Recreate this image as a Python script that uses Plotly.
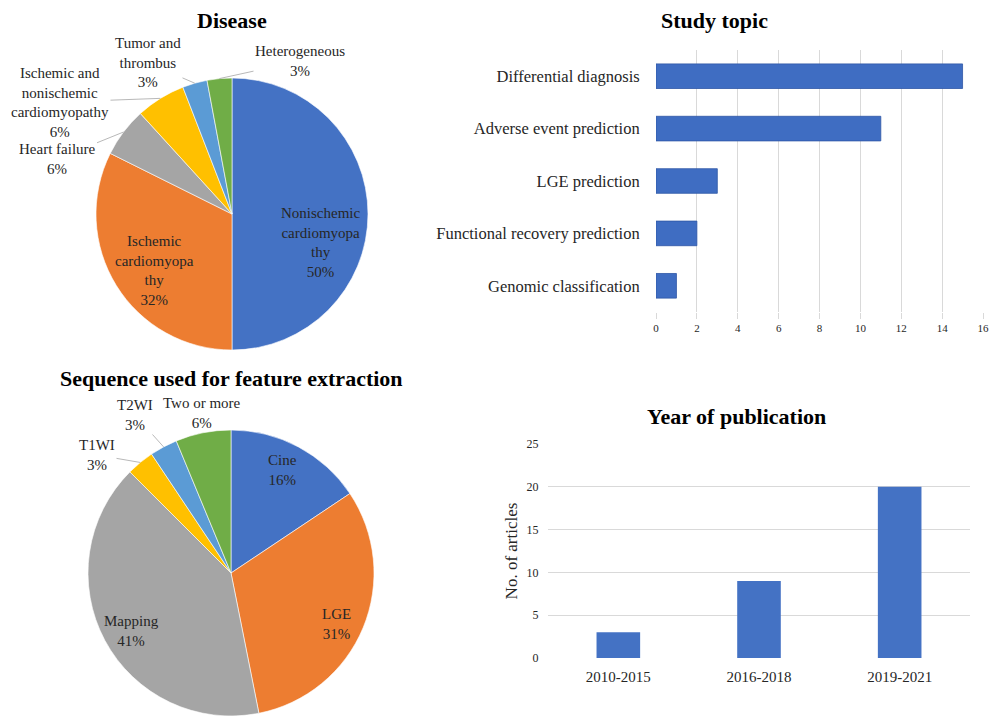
import math
import plotly.graph_objects as go

W, H = 998, 716

# ---- data -----------------------------------------------------------------
disease_labels = ["Nonischemic cardiomyopathy", "Ischemic cardiomyopathy", "Heart failure",
                  "Ischemic and nonischemic cardiomyopathy", "Tumor and thrombus", "Heterogeneous"]
disease_counts = [17, 11, 2, 2, 1, 1]

sequence_labels = ["Cine", "LGE", "Mapping", "T1WI", "T2WI", "Two or more"]
sequence_counts = [5, 10, 13, 1, 1, 2]

topic_labels = ["Differential diagnosis", "Adverse event prediction", "LGE prediction",
                "Functional recovery prediction", "Genomic classification"]
topic_counts = [15, 11, 3, 2, 1]

year_labels = ["2010-2015", "2016-2018", "2019-2021"]
year_counts = [3, 9, 20]


def fx(x):
    return x / W


def fy(y):
    return 1 - y / H


# ---- styling ----------------------------------------------------------------
SLICE_COLORS = ["#4472C4", "#ED7D31", "#A5A5A5", "#FFC000", "#5B9BD5", "#70AD47"]
BAR_COLOR = "#4472C4"
TOPIC_BAR = "#3F6DC2"
GRID = "#D9D9D9"
TEXT = "#262626"
FONT = "'Liberation Serif', 'Times New Roman', serif"

# wrapped label text as it is shown on the pies
disease_wrap = {
    "Nonischemic cardiomyopathy": "Nonischemic<br>cardiomyopa<br>thy",
    "Ischemic cardiomyopathy": "Ischemic<br>cardiomyopa<br>thy",
    "Ischemic and nonischemic cardiomyopathy": "Ischemic and<br>nonischemic<br>cardiomyopathy",
    "Tumor and thrombus": "Tumor and<br>thrombus",
}

# pie geometry in pixels: centre and radius
DIS_PIE = dict(cx=232, cy=214, r=136)
SEQ_PIE = dict(cx=231, cy=573, r=143)

# label placement: (dx, dy) offset of the label centre from the pie centre, leader line or not
disease_place = [(88, 28, False), (-78, 56, False), (-175, -55, True),
                 (-172, -112, True), (-84, -151, True), (68, -153, True)]
sequence_place = [(51, -103, False), (105, 51, False), (-100, 58, False),
                  (-134, -118, True), (-96, -158, True), (-29, -160, False)]


def pie_domain(p):
    return dict(x=[max(0.0, fx(p["cx"] - p["r"])), min(1.0, fx(p["cx"] + p["r"]))],
                y=[max(0.0, fy(p["cy"] + p["r"])), min(1.0, fy(p["cy"] - p["r"]))])


def pie_annotations(labels, counts, geom, place, wrap):
    total = sum(counts)
    anns = []
    cum = 0
    for lab, c, (dx, dy, leader) in zip(labels, counts, place):
        mid = 2 * math.pi * (cum + c / 2) / total   # clockwise from 12 o'clock
        cum += c
        pct = round(100 * c / total)
        text = f"{wrap.get(lab, lab)}<br>{pct}%"
        tx, ty = geom["cx"] + dx, geom["cy"] + dy
        common = dict(xref="paper", yref="paper", text=text, xanchor="center",
                      yanchor="middle", font=dict(family=FONT, size=15, color=TEXT))
        if leader:
            rx = geom["cx"] + geom["r"] * math.sin(mid)
            ry = geom["cy"] - geom["r"] * math.cos(mid)
            anns.append(dict(x=fx(rx), y=fy(ry), showarrow=True, arrowhead=0,
                             arrowwidth=0.8, arrowcolor="#A6A6A6",
                             ax=tx - rx, ay=ty - ry, standoff=0, **common))
        else:
            anns.append(dict(x=fx(tx), y=fy(ty), showarrow=False, **common))
    return anns


fig = go.Figure()

fig.add_trace(go.Pie(labels=disease_labels, values=disease_counts, sort=False,
                     direction="clockwise", rotation=0, textinfo="none", automargin=False,
                     marker=dict(colors=SLICE_COLORS, line=dict(color="white", width=0.6)),
                     domain=pie_domain(DIS_PIE), showlegend=False, hoverinfo="label+percent"))

fig.add_trace(go.Pie(labels=sequence_labels, values=sequence_counts, sort=False,
                     direction="clockwise", rotation=0, textinfo="none", automargin=False,
                     marker=dict(colors=SLICE_COLORS, line=dict(color="white", width=0.6)),
                     domain=pie_domain(SEQ_PIE), showlegend=False, hoverinfo="label+percent"))

fig.add_trace(go.Bar(x=topic_counts, y=topic_labels, orientation="h", width=0.47,
                     marker=dict(color=TOPIC_BAR, line=dict(color="#2E57A6", width=0.8)),
                     xaxis="x", yaxis="y", showlegend=False))

fig.add_trace(go.Bar(x=year_labels, y=year_counts, width=0.31,
                     marker=dict(color=BAR_COLOR),
                     xaxis="x2", yaxis="y2", showlegend=False))

titles = [("Disease", 232, 20), ("Study topic", 714, 20),
          ("Sequence used for feature extraction", 231, 378), ("Year of publication", 736, 416)]
annotations = [dict(x=fx(x), y=fy(y), xref="paper", yref="paper", text=f"<b>{t}</b>",
                    xanchor="center", yanchor="middle", showarrow=False,
                    font=dict(family=FONT, size=22, color="#000000"))
               for t, x, y in titles]
annotations += pie_annotations(disease_labels, disease_counts, DIS_PIE, disease_place, disease_wrap)
annotations += pie_annotations(sequence_labels, sequence_counts, SEQ_PIE, sequence_place, {})

fig.update_layout(
    template="none",
    width=W, height=H,
    margin=dict(l=0, r=0, t=0, b=0, pad=0, autoexpand=False),
    paper_bgcolor="white", plot_bgcolor="white",
    font=dict(family=FONT, color=TEXT),
    annotations=annotations,
    xaxis=dict(domain=[fx(656), fx(983)], range=[0, 16], dtick=2, showgrid=True,
               gridcolor=GRID, gridwidth=1, zeroline=False, showline=False,
               ticks="outside", ticklen=6, tickcolor=GRID, automargin=False,
               tickfont=dict(family=FONT, size=11, color=TEXT)),
    yaxis=dict(domain=[fy(312), fy(50)], autorange="reversed", showgrid=False,
               zeroline=False, showline=False, ticks="outside", ticklen=12,
               tickcolor="rgba(0,0,0,0)", automargin=False,
               tickfont=dict(family=FONT, size=16.5, color=TEXT)),
    xaxis2=dict(domain=[fx(548), fx(970)], anchor="y2", showgrid=False, zeroline=False,
                showline=False, ticks="outside", ticklen=5, tickcolor="rgba(0,0,0,0)",
                automargin=False, tickfont=dict(family=FONT, size=15, color=TEXT)),
    yaxis2=dict(domain=[fy(658), fy(444)], anchor="x2", range=[0, 25], dtick=5,
                showgrid=True, gridcolor=GRID, zeroline=False, showline=False,
                ticks="outside", ticklen=6, tickcolor="rgba(0,0,0,0)", automargin=False,
                tickfont=dict(family=FONT, size=12, color=TEXT),
                title=dict(text="No. of articles", standoff=4,
                           font=dict(family=FONT, size=17, color=TEXT))),
)

fig.write_html("out.html")
